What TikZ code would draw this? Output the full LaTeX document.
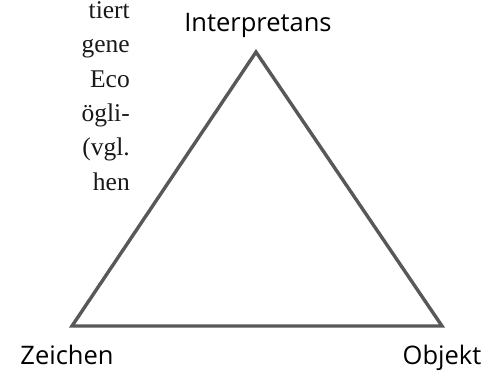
\documentclass[tikz,border=0pt]{standalone}
\usepackage{fontspec}
\setmainfont{Liberation Serif}
\setsansfont{Open Sans}
\usepackage{xcolor}
\usepackage{tikz}
\usetikzlibrary{positioning, calc}
\definecolor{edgegray}{RGB}{88, 88, 88}
\tikzstyle{corner} = [
    font=\sffamily\fontsize{25.5}{30}\selectfont,
    text=black,
    inner sep=0pt
]
\tikzstyle{pagetext} = [
    font=\rmfamily\fontsize{25.5}{34}\selectfont,
    color=black!90,
    anchor=base east,
    inner sep=0pt
]
\tikzstyle{side} = [
    line width=3.4pt,
    color=edgegray,
    line join=miter
]

\begin{document}
\begin{tikzpicture}[x=1pt, y=1pt]
        \useasboundingbox (0, 0) rectangle (500, 372);

        % Text of the page beside the figure
        \node[pagetext] (l1) at (130, 353) {tiert};
        \node[pagetext] (l2) at (130, 319) {gene};
        \node[pagetext] (l3) at (130, 284) {Eco};
        \node[pagetext] (l4) at (130, 250) {ögli-};
        \node[pagetext] (l5) at (130, 216) {(vgl.};
        \node[pagetext] (l6) at (130, 181) {hen};

        % Corners of the triangle
        \coordinate (top) at (256, 320);
        \coordinate (left) at (72, 46);
        \coordinate (right) at (442, 46);

        % Labels
        \node[corner, anchor=base] (interpretans) at (258, 340) {Interpretans};
        \node[corner, anchor=base] (zeichen) at (67, 8) {Zeichen};
        \node[corner, anchor=base] (objekt) at (442, 8) {Objekt};

        % Triangle
        \draw[side] (top) -- (right) -- (left) -- cycle;
    \end{tikzpicture}
\end{document}
